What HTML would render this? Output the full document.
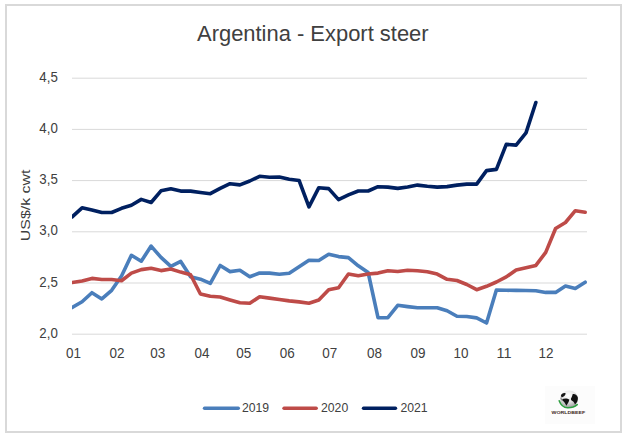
<!DOCTYPE html>
<html><head><meta charset="utf-8"><title>Argentina - Export steer</title>
<style>html,body{margin:0;padding:0;background:#fff;width:628px;height:439px;overflow:hidden}svg{display:block}text{font-family:'Liberation Sans', Arial, sans-serif}</style>
</head><body>
<svg width="628" height="439" viewBox="0 0 628 439">
<rect x="6" y="5" width="615" height="427" fill="#fff" stroke="#d9d9d9" stroke-width="2"/>
<line x1="72" y1="78.2" x2="587" y2="78.2" stroke="#d9d9d9" stroke-width="1"/>
<line x1="72" y1="129.4" x2="587" y2="129.4" stroke="#d9d9d9" stroke-width="1"/>
<line x1="72" y1="180.6" x2="587" y2="180.6" stroke="#d9d9d9" stroke-width="1"/>
<line x1="72" y1="231.8" x2="587" y2="231.8" stroke="#d9d9d9" stroke-width="1"/>
<line x1="72" y1="283.0" x2="587" y2="283.0" stroke="#d9d9d9" stroke-width="1"/>
<line x1="72" y1="334.2" x2="587" y2="334.2" stroke="#d9d9d9" stroke-width="1"/>
<text x="197" y="40.8" font-size="22.2" fill="#404040" textLength="231.6" lengthAdjust="spacingAndGlyphs">Argentina - Export steer</text>
<text x="39.3" y="81.7" font-size="14.6" fill="#404040" textLength="18.5" lengthAdjust="spacingAndGlyphs">4,5</text>
<text x="39.3" y="132.9" font-size="14.6" fill="#404040" textLength="18.5" lengthAdjust="spacingAndGlyphs">4,0</text>
<text x="39.3" y="184.1" font-size="14.6" fill="#404040" textLength="18.5" lengthAdjust="spacingAndGlyphs">3,5</text>
<text x="39.3" y="235.3" font-size="14.6" fill="#404040" textLength="18.5" lengthAdjust="spacingAndGlyphs">3,0</text>
<text x="39.3" y="286.5" font-size="14.6" fill="#404040" textLength="18.5" lengthAdjust="spacingAndGlyphs">2,5</text>
<text x="39.3" y="337.7" font-size="14.6" fill="#404040" textLength="18.5" lengthAdjust="spacingAndGlyphs">2,0</text>
<text x="66.0" y="357.7" font-size="14.4" fill="#404040" textLength="15" lengthAdjust="spacingAndGlyphs">01</text>
<text x="109.6" y="357.7" font-size="14.4" fill="#404040" textLength="15" lengthAdjust="spacingAndGlyphs">02</text>
<text x="150.2" y="357.7" font-size="14.4" fill="#404040" textLength="15" lengthAdjust="spacingAndGlyphs">03</text>
<text x="194.5" y="357.7" font-size="14.4" fill="#404040" textLength="15" lengthAdjust="spacingAndGlyphs">04</text>
<text x="236.3" y="357.7" font-size="14.4" fill="#404040" textLength="15" lengthAdjust="spacingAndGlyphs">05</text>
<text x="279.7" y="357.7" font-size="14.4" fill="#404040" textLength="15" lengthAdjust="spacingAndGlyphs">06</text>
<text x="322.2" y="357.7" font-size="14.4" fill="#404040" textLength="15" lengthAdjust="spacingAndGlyphs">07</text>
<text x="367.0" y="357.7" font-size="14.4" fill="#404040" textLength="15" lengthAdjust="spacingAndGlyphs">08</text>
<text x="410.5" y="357.7" font-size="14.4" fill="#404040" textLength="15" lengthAdjust="spacingAndGlyphs">09</text>
<text x="453.5" y="357.7" font-size="14.4" fill="#404040" textLength="15" lengthAdjust="spacingAndGlyphs">10</text>
<text x="496.5" y="357.7" font-size="14.4" fill="#404040" textLength="15" lengthAdjust="spacingAndGlyphs">11</text>
<text x="538.5" y="357.7" font-size="14.4" fill="#404040" textLength="15" lengthAdjust="spacingAndGlyphs">12</text>
<text transform="translate(30.3,241.2) rotate(-90)" x="0" y="0" font-size="13.6" fill="#404040" textLength="71.6" lengthAdjust="spacingAndGlyphs">US$/k cwt</text>
<clipPath id="pc"><rect x="72" y="60" width="520" height="280"/></clipPath>
<polyline clip-path="url(#pc)" points="72.20,307.5 82.06,301.8 91.93,292.7 101.80,298.9 111.66,290.3 121.53,276.0 131.39,255.3 141.25,261.2 151.12,246.1 160.99,257.4 170.85,266.4 180.72,261.4 190.58,276.7 200.44,279.2 210.31,283.3 220.18,265.5 230.04,271.6 239.91,270.3 249.77,276.7 259.63,273.0 269.50,273.1 279.37,274.2 289.23,273.2 299.10,266.7 308.96,260.3 318.82,260.5 328.69,254.2 338.56,256.6 348.42,257.6 358.28,265.8 368.15,272.5 378.01,317.7 387.88,317.7 397.75,305.3 407.61,306.6 417.48,307.7 427.34,307.7 437.20,307.7 447.07,310.8 456.94,316.3 466.80,316.5 476.67,317.9 486.53,323.0 496.39,290.0 506.26,290.3 516.12,290.4 525.99,290.5 535.86,290.7 545.72,292.4 555.59,292.4 565.45,286.0 575.32,288.4 585.18,282.2" fill="none" stroke="#4a7ebb" stroke-width="3.6" stroke-linejoin="round" stroke-linecap="round"/>
<polyline clip-path="url(#pc)" points="72.20,282.5 82.06,281.0 91.93,278.4 101.80,279.5 111.66,279.5 121.53,280.7 131.39,273.1 141.25,269.6 151.12,268.3 160.99,270.6 170.85,269.0 180.72,272.1 190.58,274.8 200.44,294.0 210.31,296.3 220.18,297.0 230.04,299.9 239.91,302.7 249.77,303.3 259.63,296.8 269.50,298.1 279.37,299.5 289.23,300.9 299.10,301.9 308.96,303.2 318.82,300.0 328.69,289.7 338.56,287.7 348.42,274.0 358.28,275.8 368.15,274.0 378.01,273.1 387.88,270.7 397.75,271.5 407.61,270.2 417.48,270.8 427.34,271.7 437.20,274.1 447.07,279.3 456.94,280.5 466.80,284.5 476.67,289.7 486.53,286.3 496.39,282.0 506.26,276.9 516.12,270.0 525.99,267.8 535.86,265.4 545.72,252.4 555.59,228.5 565.45,222.5 575.32,210.7 585.18,212.2" fill="none" stroke="#be4b48" stroke-width="3.6" stroke-linejoin="round" stroke-linecap="round"/>
<polyline clip-path="url(#pc)" points="72.20,216.8 82.06,207.8 91.93,209.9 101.80,212.5 111.66,212.5 121.53,208.3 131.39,205.2 141.25,199.4 151.12,202.5 160.99,190.8 170.85,188.7 180.72,191.1 190.58,191.1 200.44,192.5 210.31,193.7 220.18,188.4 230.04,183.7 239.91,184.9 249.77,181.0 259.63,176.3 269.50,177.2 279.37,177.1 289.23,179.2 299.10,180.5 308.96,206.8 318.82,187.7 328.69,188.6 338.56,199.6 348.42,194.9 358.28,191.0 368.15,191.0 378.01,186.7 387.88,187.1 397.75,188.4 407.61,187.0 417.48,185.1 427.34,186.3 437.20,187.1 447.07,186.6 456.94,185.1 466.80,184.1 476.67,184.1 486.53,170.6 496.39,169.4 506.26,144.4 516.12,145.1 525.99,132.9 535.86,102.5" fill="none" stroke="#002060" stroke-width="3.6" stroke-linejoin="round" stroke-linecap="round"/>
<line x1="204.5" y1="408.3" x2="238.3" y2="408.3" stroke="#4a7ebb" stroke-width="3.4" stroke-linecap="round"/>
<text x="241.9" y="412" font-size="13" fill="#404040" textLength="27.2" lengthAdjust="spacingAndGlyphs">2019</text>
<line x1="284" y1="408.3" x2="316.2" y2="408.3" stroke="#be4b48" stroke-width="3.4" stroke-linecap="round"/>
<text x="321.0" y="412" font-size="13" fill="#404040" textLength="27.2" lengthAdjust="spacingAndGlyphs">2020</text>
<line x1="363.5" y1="408.3" x2="395.5" y2="408.3" stroke="#002060" stroke-width="3.4" stroke-linecap="round"/>
<text x="400.4" y="412" font-size="13" fill="#404040" textLength="27.2" lengthAdjust="spacingAndGlyphs">2021</text>
<rect x="545" y="386" width="50" height="38" fill="#fcfcfc"/>
<g>
<defs><radialGradient id="gg" cx="0.45" cy="0.3" r="0.75"><stop offset="0" stop-color="#ffffff"/><stop offset="0.5" stop-color="#e4e4e4"/><stop offset="1" stop-color="#959595"/></radialGradient></defs>
<ellipse cx="569.1" cy="399" rx="9" ry="8.5" fill="url(#gg)"/>
<path d="M560.9,395.5 C561.3,393.6 563.6,392.6 565.6,393.2 C565.8,395 564,396.8 561.6,397.4 Z" fill="#151515"/>
<path d="M560.5,397.5 C561.5,398 562.2,399.3 562.1,400.6 C561.3,400.2 560.6,399.2 560.5,397.5 Z" fill="#777"/>
<path d="M562.4,399 C564.2,398.2 567.8,398.2 569.3,399.6 C569.2,401.8 567.8,403.6 566.4,405.8 C565.4,403.8 564.2,401.8 562.4,400.6 Z" fill="#111"/>
<path d="M572.6,394.2 C574.8,393.6 577.2,395 577.9,397.8 C578,400.8 576.6,403 575,404.4 C574.2,402.4 573.6,401.4 572.4,400.9 C571.2,400.4 570.8,399.4 571,398.4 C571.8,397.4 572.2,395.9 572.6,394.2 Z" fill="#111"/>
<path d="M559.2,400.8 C560.8,405.2 564,407.6 567.6,407.7 C571.4,407.8 575,406.5 577.2,404.6" fill="none" stroke="#2e9e40" stroke-width="1.6" stroke-linecap="round"/>
<text x="551.6" y="414.2" font-size="4.3" font-weight="bold" fill="#3f2a1c" textLength="33.6" lengthAdjust="spacingAndGlyphs">WORLDBEEF</text>
</g>
</svg>
</body></html>
